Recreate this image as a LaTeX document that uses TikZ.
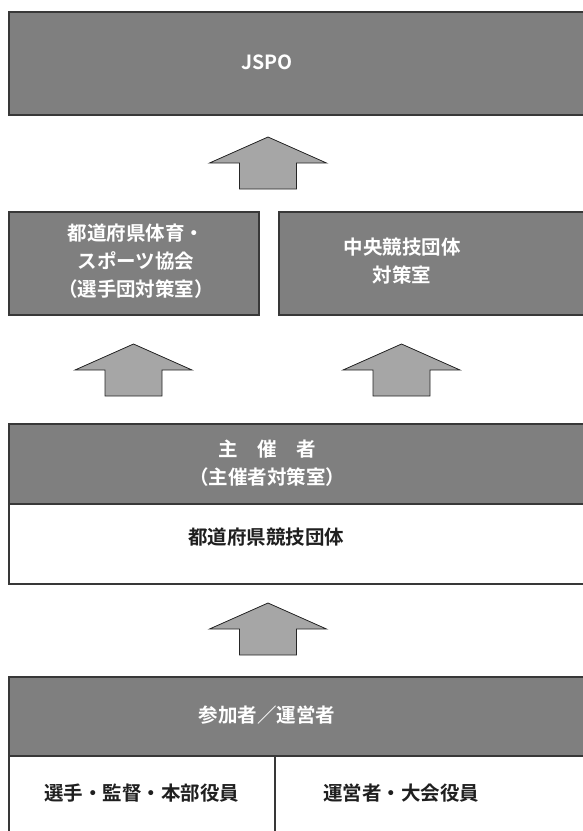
\documentclass[tikz,border=0pt]{standalone}
\usepackage{fontspec}
\newfontfamily\jpfont{Noto Sans CJK JP}[BoldFont={Noto Sans CJK JP Bold}]
\definecolor{boxgray}{HTML}{7F7F7F}
\definecolor{edgegray}{HTML}{383838}
\definecolor{arrowgray}{HTML}{A6A6A6}
\tikzset{
  darkbox/.style={draw=edgegray, line width=1.5pt, fill=boxgray, inner sep=0pt, anchor=north west},
  lightbox/.style={draw=edgegray, line width=1.5pt, fill=white, inner sep=0pt, anchor=north west},
  darklabel/.style={text=white, align=center, font=\jpfont\bfseries\fontsize{19.5}{28}\selectfont},
  lightlabel/.style={text=black!88, align=center, font=\jpfont\bfseries\fontsize{19.5}{28}\selectfont},
  uparrow/.style={draw=black!85, line width=0.8pt, fill=arrowgray, line join=miter}
}
% block arrow pointing up, tip at (#2,#3)
\newcommand{\blockarrow}[3]{%
  \coordinate (#1) at (#2,#3);
  \draw[uparrow] (#1) -- ++(58.5,26) -- ++(-30,0) -- ++(0,26) -- ++(-57,0)
    -- ++(0,-26) -- ++(-30,0) -- cycle;
}
\begin{document}
\begin{tikzpicture}[x=1pt, y=-1pt]
  \useasboundingbox (0,0) rectangle (583,831);
  \clip (0,0) rectangle (583,831);
  % top box
  \node[darkbox, minimum width=592pt, minimum height=103pt] (jspo) at (8,11) {};
  \node[darklabel] (jspotext) at (267,62) {JSPO};
  \blockarrow{arrowtop}{268}{137}
  % second row
  \node[darkbox, minimum width=250pt, minimum height=103pt] (prefsport) at (8,211) {};
  \node[darkbox, minimum width=322pt, minimum height=103pt] (central) at (278,211) {};
  \node[darklabel] (prefsporttext) at (136,261) {都道府県体育・\\スポーツ協会\\（選手団対策室）};
  \node[darklabel] (centraltext) at (402,261.5) {中央競技団体\\対策室};
  \blockarrow{arrowleft}{133.5}{344}
  \blockarrow{arrowright}{401.5}{344}
  % organiser
  \node[darkbox, minimum width=592pt, minimum height=80pt] (host) at (8,423) {};
  \node[lightbox, minimum width=592pt, minimum height=80pt] (prefassoc) at (8,503) {};
  \node[darklabel] (hosttext) at (267,463.5) {主　催　者\\（主催者対策室）};
  \node[lightlabel] (prefassoctext) at (266,537) {都道府県競技団体};
  \blockarrow{arrowbottom}{268}{603}
  % participants
  \node[darkbox, minimum width=592pt, minimum height=79pt] (people) at (8,676) {};
  \node[lightbox, minimum width=266pt, minimum height=90pt] (players) at (8,755) {};
  \node[lightbox, minimum width=326pt, minimum height=90pt] (staff) at (274,755) {};
  \node[darklabel] (peopletext) at (267,715) {参加者／運営者};
  \node[lightlabel] (playerstext) at (142,793) {選手・監督・本部役員};
  \node[lightlabel] (stafftext) at (401,793) {運営者・大会役員};
\end{tikzpicture}
\end{document}
